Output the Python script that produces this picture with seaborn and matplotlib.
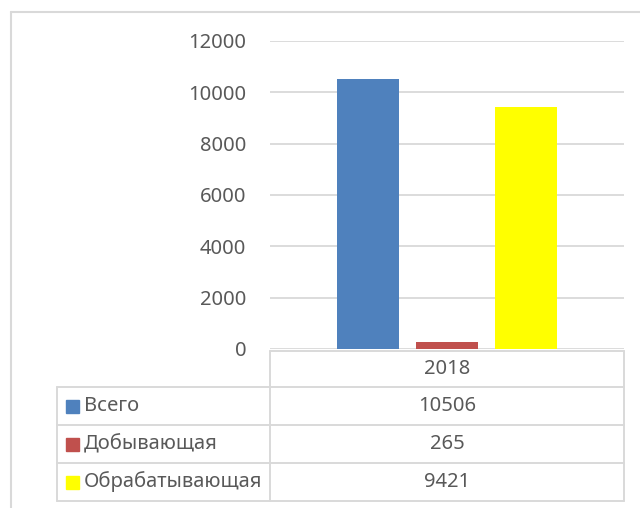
import matplotlib
matplotlib.use("Agg")
import matplotlib.pyplot as plt
import pandas as pd
import seaborn as sns
from matplotlib.lines import Line2D
from matplotlib.patches import Rectangle

# data
years = ["2018"]
series = ["Всего", "Добывающая", "Обрабатывающая"]
values = [10506, 265, 9421]
colors = ["#4F81BD", "#C0504D", "#FFFF00"]
y_ticks = [0, 2000, 4000, 6000, 8000, 10000, 12000]

W, H = 640, 508
TEXT = "#595959"
GRID = "#D9D9D9"
FS = 14.5

sns.set_theme(style="white")
plt.rcParams["font.family"] = ["Noto Sans", "DejaVu Sans"]

df = pd.DataFrame({"year": years * len(series), "series": series, "value": values})

fig = plt.figure(figsize=(W / 100, H / 100), dpi=100)


def fx(px):
    return px / W


def fy(py):
    return 1 - py / H


# plot area
left, right, top, bottom = 270, 624, 41, 349
ax = fig.add_axes([fx(left), fy(bottom), fx(right - left), (bottom - top) / H])
sns.barplot(data=df, x="year", y="value", hue="series", palette=colors,
            width=0.67, gap=0.215, saturation=1, legend=False, linewidth=0, ax=ax)
ax.set_ylim(0, 12000)
ax.set_xlim(-0.5, 0.5)
ax.set_yticks(y_ticks)
ax.set_yticklabels([str(t) for t in y_ticks], color=TEXT, fontsize=FS)
ax.tick_params(axis="y", length=0, pad=17)
ax.set_xticks([])
ax.set_xlabel("")
ax.set_ylabel("")
ax.yaxis.grid(True, color=GRID, linewidth=1.3)
ax.set_axisbelow(True)
for s in ax.spines.values():
    s.set_visible(False)

# chart frame
fig.add_artist(Line2D([fx(11), fx(640)], [fy(12), fy(12)], color="#D9D9D9", lw=1.5))
fig.add_artist(Line2D([fx(11), fx(11)], [fy(12), fy(508)], color="#D9D9D9", lw=1.5))

# data table
row_y = [351, 387, 425, 463, 501]
tab_left, col_split = 57, 270
lc = "#D9D9D9"


def hline(x0, x1, y):
    fig.add_artist(Line2D([fx(x0), fx(x1)], [fy(y), fy(y)], color=lc, lw=1.4))


def vline(x, y0, y1):
    fig.add_artist(Line2D([fx(x), fx(x)], [fy(y0), fy(y1)], color=lc, lw=1.4))


hline(col_split, right, row_y[0])
for y in row_y[1:]:
    hline(tab_left, right, y)
vline(col_split, row_y[0], row_y[-1])
vline(right, row_y[0], row_y[-1])
vline(tab_left, row_y[1], row_y[-1])

mid = (col_split + right) / 2
fig.text(fx(mid), fy((row_y[0] + row_y[1]) / 2), years[0], ha="center", va="center",
         color=TEXT, fontsize=FS)
for i, (name, val, c) in enumerate(zip(series, values, colors)):
    yc = (row_y[i + 1] + row_y[i + 2]) / 2
    fig.add_artist(Rectangle((fx(66), fy(yc + 6.5)), 13 / W, 13 / H, color=c,
                             transform=fig.transFigure))
    fig.text(fx(84), fy(yc), name, ha="left", va="center", color=TEXT, fontsize=FS)
    fig.text(fx(mid), fy(yc), str(val), ha="center", va="center", color=TEXT, fontsize=FS)

fig.savefig("out.png", dpi=100)
